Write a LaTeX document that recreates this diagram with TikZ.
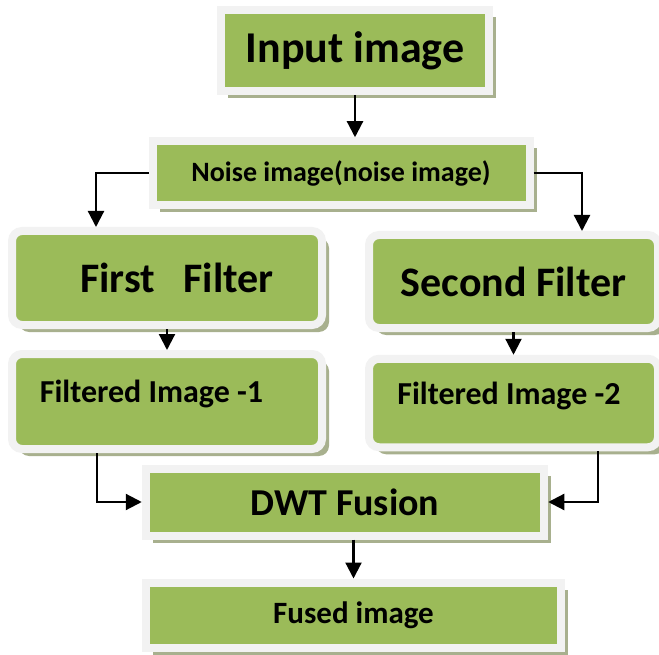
\documentclass[tikz,border=0pt]{standalone}
\usepackage{fontspec}
\setmainfont{Carlito}
\usetikzlibrary{shadows,arrows.meta}

\definecolor{boxgreen}{RGB}{155,187,89}
\definecolor{framegray}{RGB}{242,242,242}
\definecolor{shadowgreen}{RGB}{168,176,142}

\tikzset{
  box/.style={fill=boxgreen, draw=framegray, line width=8pt, outer sep=4pt,
    font=\bfseries, inner sep=0pt,
    drop shadow={shadow xshift=7pt, shadow yshift=-7pt, fill=shadowgreen, opacity=1}},
  roundbox/.style={box, rounded corners=10pt},
  flow/.style={line width=2.2pt, -{Triangle[length=16pt,width=16pt]}}
}

\newcommand{\fsz}[1]{\fontsize{#1}{#1}\selectfont}

\begin{document}
\begin{tikzpicture}[x=1pt,y=1pt]
  \useasboundingbox (0,0) rectangle (659,-655);

  % top and noise boxes
  \node[box, minimum width=268, minimum height=81] (input) at (355,-50.5) {\fsz{44}Input image};
  \node[box, minimum width=377, minimum height=63.5] (noise) at (341,-173) {\fsz{28}Noise image(noise image)};

  % the two filters
  \node[roundbox, minimum width=310, minimum height=94] (first) at (167,-278) {\fsz{42}\hspace*{20pt}First~~~Filter};
  \node[roundbox, minimum width=289, minimum height=93] (second) at (513.5,-281.5) {\fsz{42}Second Filter};

  % filtered outputs
  \node[roundbox, minimum width=310, minimum height=95, text depth=20pt] (filt1) at (167,-401.5) {\fsz{32}Filtered Image -1\hspace*{31pt}};
  \node[roundbox, minimum width=289, minimum height=88.5, text depth=20pt] (filt2) at (513.5,-403) {\fsz{32}Filtered Image -2\hspace*{9pt}};

  % fusion and result
  \node[box, minimum width=398.5, minimum height=67] (dwt) at (345,-502) {\fsz{38}DWT Fusion};
  \node[box, minimum width=415, minimum height=65] (fused) at (353.5,-615) {\fsz{31}Fused image};

  % arrows
  \draw[flow] (input.south) -- (input.south |- noise.north);
  \draw[flow] (noise.west) -| ([xshift=-71pt]first.north);
  \draw[flow] (noise.east) -| ([xshift=68.5pt]second.north);
  \draw[flow] (first.south) -- (filt1.north);
  \draw[flow] (second.south) -- (filt2.north);
  \draw[flow] ([xshift=-70pt]filt1.south) |- (dwt.west);
  \draw[flow] ([xshift=84.5pt]filt2.south) |- (dwt.east);
  \draw[flow] (fused.north |- dwt.south) -- (fused.north);

\end{tikzpicture}
\end{document}
